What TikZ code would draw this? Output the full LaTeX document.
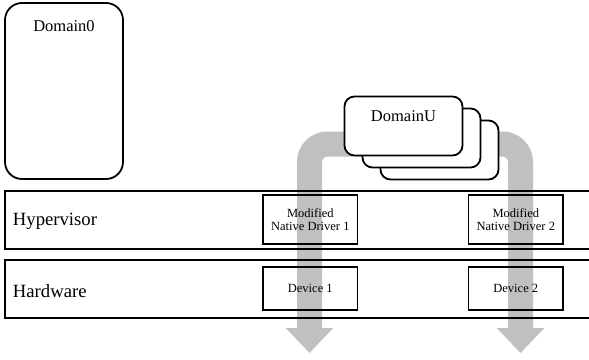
\documentclass[tikz,border=0pt]{standalone}
\usepackage{fontspec}
\setmainfont{Liberation Serif}
\usetikzlibrary{arrows.meta}
\definecolor{flowgray}{RGB}{192,192,192}
\tikzset{
  layer/.style={draw, line width=2pt, rectangle, minimum width=600pt, minimum height=58pt, inner sep=0pt},
  layertext/.style={anchor=west, font=\fontsize{18.7}{22}\selectfont, inner sep=0pt},
  domain/.style={draw, line width=1.8pt, fill=white, rounded corners=#1, inner sep=0pt},
  domtext/.style={font=\fontsize{16.5}{20}\selectfont, inner sep=0pt},
  unitbox/.style={draw, line width=1.8pt, rectangle, minimum width=94.5pt, inner sep=0pt,
                  align=center, font=\fontsize{12.5}{13.5}\selectfont},
  flow/.style={draw=flowgray, line width=25pt, rounded corners=18pt,
               {Triangle[length=25pt 0 0,width=46pt 0 0]}-{Triangle[length=25pt 0 0,width=46pt 0 0]}}
}
\begin{document}
\begin{tikzpicture}[x=1pt,y=-1pt]
\clip (0,0) rectangle (589,359);

% data path from the driver stacks up through DomainU and back down
\coordinate (tipL) at (309.5,353);
\coordinate (tipR) at (520.5,353);
\coordinate (topL) at (309.5,144);
\coordinate (topR) at (520.5,144);
\draw[flow] (tipL) -- (topL) -- (topR) -- (tipR);

% layers
\node[layer] (hyp) at (305,219.5) {};
\node[layer] (hw)  at (305,289.25) {};
\node[layertext] (hypt) at (12.7,221) {Hypervisor};
\node[layertext] (hwt)  at (12.7,291) {Hardware};

% drivers and devices
\node[unitbox, minimum height=49pt] (drv1) at (310.3,219.5) {Modified\\Native Driver 1};
\node[unitbox, minimum height=49pt] (drv2) at (515.8,219.5) {Modified\\Native Driver 2};
\node[unitbox, minimum height=43.3pt] (dev1) at (310.3,288.3) {Device 1};
\node[unitbox, minimum height=43.3pt] (dev2) at (515.8,288.3) {Device 2};

% Domain0
\node[domain=17pt, minimum width=118pt, minimum height=176pt] (dom0) at (64,91) {};
\node[domtext] (dom0t) at (64,26) {Domain0};

% stacked DomainU guests
\node[domain=10pt, minimum width=118pt, minimum height=59pt] (domU3) at (439.5,150) {};
\node[domain=10pt, minimum width=118pt, minimum height=59pt] (domU2) at (421.5,138) {};
\node[domain=10pt, minimum width=118pt, minimum height=59pt] (domU1) at (403.5,126) {};
\node[domtext] (domUt) at (403.5,116) {DomainU};
\end{tikzpicture}
\end{document}
